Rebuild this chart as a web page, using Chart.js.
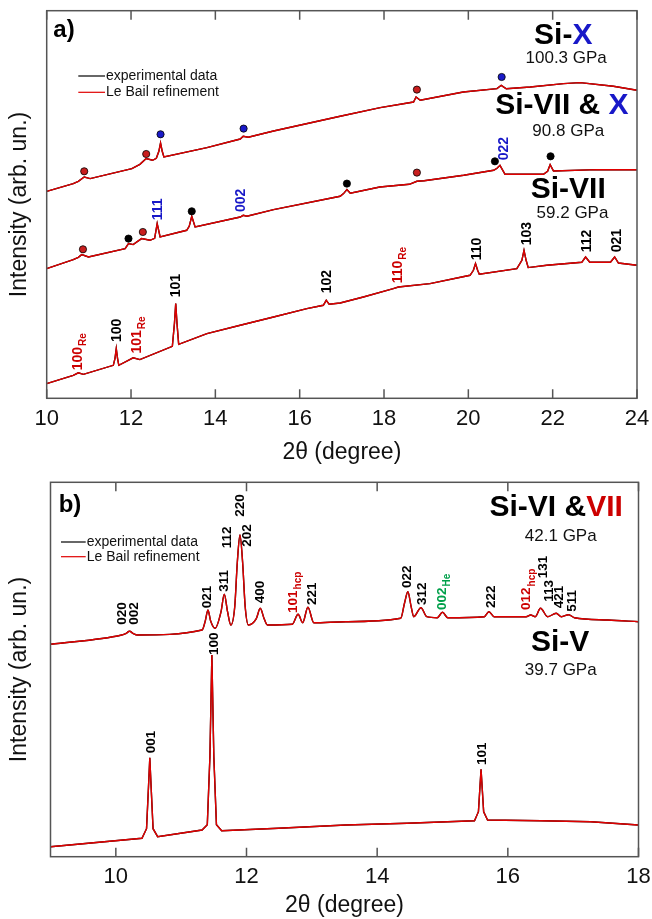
<!DOCTYPE html>
<html><head><meta charset="utf-8">
<script src="https://cdn.jsdelivr.net/npm/chart.js@4.4.1/dist/chart.umd.min.js"></script>
<style>
body{margin:0;background:#fff;width:652px;height:919px;position:relative;overflow:hidden}
canvas{position:absolute;left:0}
#ca{top:0}#cb{top:469px}
</style></head><body>
<canvas id="ca" width="652" height="470"></canvas>
<canvas id="cb" width="652" height="450"></canvas>
<script>
const FONT="'Liberation Sans', Arial, Helvetica, sans-serif";
const RED="#e00000",BLUE="#1818c8",GREEN="#00a04a",DKRED="#cc0000";
Chart.defaults.font.family=FONT;
Chart.defaults.color="#111";

// ---- a) patterns: 2theta (deg) / intensity (arb. un.)
const aX_2t=[10,10.63,10.75,10.89,11.03,12.02,12.21,12.36,12.51,12.6,12.66,12.70,12.74,12.78,13.8,14.59,14.66,14.78,15.38,16.96,17.91,18.7,18.76,18.86,19.88,20.68,20.78,20.9,21.47,22.26,22.65,23.44,24];
const aX_I=[207,214.7,217,221.3,219.7,229.7,234,239.7,238,240,247,255.3,247,241.3,250.7,259.3,262,261,267.3,282,290.7,296.3,301.3,298,306.3,309.7,313,309.5,311.3,314.7,315.7,312,308];
const aVIIX_2t=[10,10.63,10.75,10.83,10.99,11.86,11.94,12.05,12.25,12.45,12.56,12.62,12.69,13.32,13.38,13.44,13.52,14.59,14.66,14.75,15.38,16.96,17.04,17.12,17.2,17.9,18.6,18.78,18.95,19.89,20.6,20.68,20.75,20.87,21.78,21.88,21.94,22.02,23.05,24];
const aVIIX_I=[129.7,138.7,141,143.7,141.3,149.7,154.7,153.7,159.7,158,160,174.7,161.3,168,172,182,171.3,181.3,183,182,188.7,202,204.7,208.7,205,211.3,214,217,217.5,223,228,230,233,224,224,227,233.7,227.3,228.7,228.5];
const aVII_2t=[10,10.63,10.75,10.87,11.58,11.62,11.65,11.68,11.71,11.98,12.05,12.21,12.98,13.03,13.06,13.09,13.13,13.8,14.59,15.38,16.17,16.56,16.63,16.7,16.96,17.51,18.22,18.34,19.09,20.04,20.12,20.17,20.22,20.26,21.15,21.27,21.32,21.37,21.42,21.86,22.69,22.78,22.88,23.37,23.47,23.56,24];
const aVII_I=[14.7,23,25.5,24,33,40,49.7,40,33,39,40.5,38.7,52,75,94.7,75,54,64.7,73,81.3,89.7,93,98,94,95.3,101.3,109.7,111.3,114.7,123,128,134.7,128,124,129.7,138,148,138,130.7,133,136,141.3,136,136,141.3,135.3,133];
// phase markers [2theta, intensity]
const dotsRe=[[10.89,227],[12.36,244.3],[18.78,308.7],[10.86,149],[12.28,166.3],[18.78,225.7]];
const dotsX=[[12.70,264],[14.67,269.7],[20.79,321.3]];
const dotsVII=[[11.94,159.7],[13.44,187],[17.12,214.7],[20.63,237],[21.95,242]];
// hkl labels [hkl, 2theta, intensity at label start]
const hklA_VII=[["100",11.66,56.3],["101",13.08,101],["102",16.64,105],["110",20.20,138],["103",21.39,153],["112",22.81,146],["021",23.52,146]];
const hklA_Re=[["100",10.75,28],["101",12.14,44.7],["110",18.34,115]];
const hklA_X=[["111",12.64,178],["002",14.61,186.3],["022",20.85,238]];

// ---- b) patterns
const bVI_2t=[9,10.09,10.15,10.21,10.27,10.33,11.32,11.37,11.41,11.45,11.52,11.61,11.66,11.71,11.76,11.82,11.86,11.90,11.94,11.98,12.03,12.15,12.21,12.27,12.32,12.70,12.79,12.86,12.94,13.03,13.52,14.36,14.42,14.47,14.52,14.56,14.67,14.76,14.92,15.00,15.08,15.64,15.71,15.79,16.28,16.35,16.42,16.50,16.61,16.74,16.82,16.93,17.02,17.53,18];
const bVI_I=[212.4,221.7,223,225.4,223,221.7,226.7,236,246.7,236,228.4,245,262.4,245,231.7,250,295,321.7,295,250,231.7,238,248.4,238,231.7,232.4,242.4,234,249.4,234,235,238.4,254,265,250,240,249,240,239,244.4,239,240,245,240,240,241.7,240,248.4,240,243.4,240,242,239,236.7,235];
const bV_2t=[9,10.40,10.47,10.50,10.52,10.54,10.57,10.64,11.32,11.40,11.44,11.47,11.50,11.54,11.62,12.49,13.52,14.46,15.49,15.55,15.59,15.63,15.69,16.51,17.27,18];
const bV_I=[10,18.4,28,70,99,70,28,20,26.7,32,100,201.7,100,32,26,28.4,31.7,33.4,36,45,87.4,45,36.7,36,35,31.7];
const hklB_VI=[["020",10.10,232],["002",10.29,232],["021",11.40,248.4],["311",11.66,265],["112",11.71,308.4],["220",11.90,340],["202",12.01,310],["400",12.21,253.4],["221",13.01,251.7],["022",14.46,268.7],["312",14.69,251.7],["222",15.74,248.7],["131",16.55,278.4],["113",16.64,255],["421",16.79,248.4],["511",16.98,245]];
const hklB_V=[["001",10.54,103.4],["100",11.50,201.7],["101",15.61,91.7]];
const hklB_hcp=[["101",12.72,243.7],["012",16.29,246.7]];
const hklB_He=[["002",14.99,246.7]];

const ticksA=[10,12,14,16,18,20,22,24];
const ticksB=[10,12,14,16,18];

// phase names [[text,colour]...], 2theta, intensity, big?
const phaseA=[[[["Si-","#000"],["X",BLUE]],22.25,362.3,1],[[["100.3 GPa","#111"]],22.32,340.3,0],
 [[["Si-VII & ","#000"],["X",BLUE]],22.22,292.3,1],[[["90.8 GPa","#111"]],22.37,266.8,0],
 [[["Si-VII","#000"]],22.37,208.3,1],[[["59.2 GPa","#111"]],22.47,185.3,0]];
const phaseB=[[[["Si-VI &","#000"],["VII",DKRED]],16.74,349.2,1],[[["42.1 GPa","#111"]],16.81,320,0],
 [[["Si-V","#000"]],16.80,214.2,1],[[["39.7 GPa","#111"]],16.81,186.7,0]];

const pts=(xs,ys)=>xs.map((x,i)=>({x,y:ys[i]}));
function curve(xs,ys,mode){return [
  {data:pts(xs,ys),borderColor:"#000",borderWidth:1.4,pointRadius:0,tension:0,cubicInterpolationMode:mode,order:3},
  {data:pts(xs,ys),borderColor:RED,borderWidth:1.4,pointRadius:0,tension:0,cubicInterpolationMode:mode,order:2}];}
function dots(list,col){return {type:'scatter',data:list.map(d=>({x:d[0],y:d[1]})),pointRadius:3.6,
  pointBackgroundColor:col,pointBorderColor:"#000",pointBorderWidth:0.8,order:1};}

function drawHkl(chart,list,col,sub,size){
  const {ctx,scales:{x,y}}=chart;
  list.forEach(([t,tt,ii])=>{
    ctx.save();
    ctx.translate(x.getPixelForValue(tt),y.getPixelForValue(ii));
    ctx.rotate(-Math.PI/2);
    ctx.fillStyle=col;ctx.textBaseline="middle";ctx.textAlign="left";
    ctx.font=`bold ${size}px ${FONT}`;
    ctx.fillText(t,0,0);
    if(sub){const w=ctx.measureText(t).width;ctx.font=`bold 10px ${FONT}`;ctx.fillText(sub,w+1,5);}
    ctx.restore();
  });
}
function drawPhase(chart,list){
  const {ctx,scales:{x,y}}=chart;
  ctx.save();ctx.textBaseline="middle";ctx.textAlign="left";
  list.forEach(([segs,tt,ii,big])=>{
    ctx.font=big?`bold 30px ${FONT}`:`17px ${FONT}`;
    const w=segs.reduce((a,s)=>a+ctx.measureText(s[0]).width,0);
    let px=x.getPixelForValue(tt)-w/2;const py=y.getPixelForValue(ii);
    segs.forEach(([s,c])=>{ctx.fillStyle=c;ctx.fillText(s,px,py);px+=ctx.measureText(s).width;});
  });
  ctx.restore();
}
function frame(chart,ticks){
  const {ctx,chartArea:a,scales:{x}}=chart;
  ctx.save();ctx.strokeStyle="#555";ctx.lineWidth=1.5;
  ctx.strokeRect(a.left,a.top,a.right-a.left,a.bottom-a.top);
  ctx.beginPath();
  ticks.forEach(v=>{const p=x.getPixelForValue(v);ctx.moveTo(p,a.bottom);ctx.lineTo(p,a.bottom-9);ctx.moveTo(p,a.top);ctx.lineTo(p,a.top+9);});
  ctx.stroke();ctx.restore();
}
function legendBox(chart,tag,lx,ly,len,gap){
  const {ctx,chartArea:a}=chart;
  ctx.save();ctx.textBaseline="middle";ctx.textAlign="left";
  [["experimental data","#000"],["Le Bail refinement",RED]].forEach(([t,c],i)=>{
    const yy=a.top+ly+i*gap;
    ctx.strokeStyle=c;ctx.lineWidth=1.2;ctx.beginPath();ctx.moveTo(a.left+lx,yy);ctx.lineTo(a.left+lx+len,yy);ctx.stroke();
    ctx.fillStyle="#111";ctx.font=`14px ${FONT}`;ctx.fillText(t,a.left+lx+len+1,yy);
  });
  ctx.font=`bold 24px ${FONT}`;ctx.fillStyle="#000";ctx.textAlign="center";
  ctx.fillText(tag[0],a.left+tag[1],a.top+tag[2]);
  ctx.restore();
}

function opts(xmin,xmax,ymax,ticks,yW,xH,pad,titlePadB){
  return {responsive:false,animation:false,devicePixelRatio:1,
    layout:{padding:pad},
    plugins:{legend:{display:false},tooltip:{enabled:false}},
    scales:{
      x:{type:'linear',min:xmin,max:xmax,grid:{display:false,drawTicks:false},border:{display:false},
        afterBuildTicks:s=>{s.ticks=ticks.map(v=>({value:v}));},
        afterFit:s=>{s.height=xH;s.paddingLeft=0;s.paddingRight=0;},
        ticks:{font:{size:22},color:"#111",padding:7,maxRotation:0,autoSkip:false},
        title:{display:true,text:"2θ (degree)",font:{size:23},color:"#111",padding:{top:0,bottom:titlePadB}}},
      y:{type:'linear',min:0,max:ymax,grid:{display:false,drawTicks:false},border:{display:false},ticks:{display:false},
        afterFit:s=>{s.width=yW;},
        title:{display:true,text:"Intensity (arb. un.)",font:{size:23},color:"#111",padding:{top:6,bottom:0}}}
    }};
}

new Chart(document.getElementById("ca"),{type:'line',
  data:{datasets:[...curve(aX_2t,aX_I,'default'),...curve(aVIIX_2t,aVIIX_I,'default'),...curve(aVII_2t,aVII_I,'default'),
    dots(dotsRe,"#c81e1e"),dots(dotsX,"#1a1ac8"),dots(dotsVII,"#000")]},
  options:opts(10,24,387.6,ticksA,46.7,71.7,{top:10.7,right:15,left:0,bottom:0},3.2),
  plugins:[{id:'annA',afterDatasetsDraw(c){
    frame(c,ticksA);
    drawHkl(c,hklA_VII,"#000",null,14);drawHkl(c,hklA_Re,DKRED,"Re",14);drawHkl(c,hklA_X,BLUE,null,14);
    drawPhase(c,phaseA);
    legendBox(c,["a)",17.3,19.3],31.6,65.3,26.7,16.3);
  }}]});

new Chart(document.getElementById("cb"),{type:'line',
  data:{datasets:[...curve(bVI_2t,bVI_I,'monotone'),...curve(bV_2t,bV_I,'default')]},
  options:opts(9,18,374.4,ticksB,50.5,62.3,{top:13.3,right:13.5,left:0,bottom:0},0),
  plugins:[{id:'annB',afterDatasetsDraw(c){
    frame(c,ticksB);
    drawHkl(c,hklB_VI,"#000",null,13.5);drawHkl(c,hklB_V,"#000",null,13.5);
    drawHkl(c,hklB_hcp,DKRED,"hcp",13.5);drawHkl(c,hklB_He,GREEN,"He",13.5);
    drawPhase(c,phaseB);
    legendBox(c,["b)",19.5,22.7],10.5,59.7,24.7,14.7);
  }}]});
</script></body></html>
